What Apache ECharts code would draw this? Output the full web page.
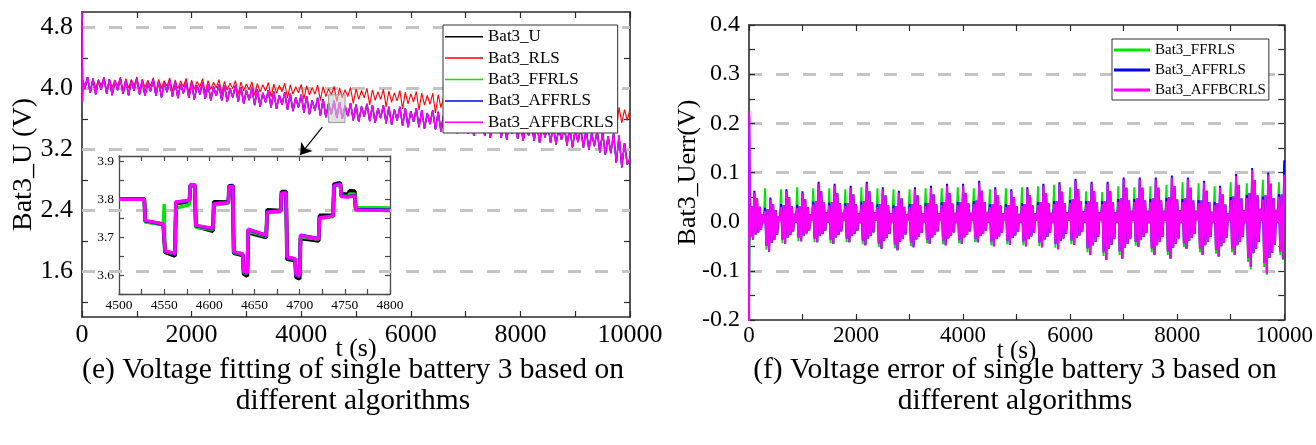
<!DOCTYPE html>
<html>
<head>
<meta charset="utf-8">
<script src="https://cdn.jsdelivr.net/npm/echarts@6/dist/echarts.min.js"></script>
<style>
  html, body { margin: 0; padding: 0; background: #fff; }
  #chart { width: 1316px; height: 445px; }
</style>
</head>
<body>
<div id="chart"></div>
<script>
// ---------- data ----------
// Terminal voltage of cell 3 (V), sampled every 50 s from 0 to 10000 s
const voltMeasured = [
  4.11, 3.99, 4.145, 3.94, 4.125, 3.92,
  4.10, 3.98, 4.135, 3.93, 4.115, 3.91,
  4.095, 3.975, 4.13, 3.925, 4.11, 3.905,
  4.09, 3.97, 4.125, 3.92, 4.105, 3.90,
  4.08, 3.96, 4.115, 3.90, 4.095, 3.88,
  4.07, 3.95, 4.105, 3.89, 4.085, 3.87,
  4.055, 3.935, 4.09, 3.875, 4.07, 3.855,
  4.04, 3.92, 4.075, 3.86, 4.055, 3.84,
  4.02, 3.90, 4.055, 3.84, 4.035, 3.82,
  4.00, 3.88, 4.035, 3.82, 4.015, 3.80,
  3.97, 3.845, 4.005, 3.78, 3.985, 3.76,
  3.94, 3.815, 3.975, 3.75, 3.955, 3.73,
  3.91, 3.785, 3.945, 3.72, 3.925, 3.70,
  3.88, 3.75, 3.915, 3.68, 3.895, 3.66,
  3.84, 3.71, 3.875, 3.64, 3.855, 3.62,
  3.80, 3.66, 3.835, 3.61, 3.815, 3.60,
  3.77, 3.635, 3.805, 3.58, 3.785, 3.56,
  3.76, 3.63, 3.795, 3.57, 3.775, 3.55,
  3.74, 3.61, 3.775, 3.54, 3.755, 3.52,
  3.72, 3.58, 3.755, 3.51, 3.735, 3.49,
  3.70, 3.56, 3.735, 3.49, 3.715, 3.47,
  3.675, 3.53, 3.71, 3.46, 3.69, 3.435,
  3.65, 3.505, 3.685, 3.435, 3.665, 3.41,
  3.625, 3.475, 3.66, 3.40, 3.64, 3.375,
  3.60, 3.45, 3.635, 3.375, 3.615, 3.35,
  3.575, 3.425, 3.61, 3.35, 3.59, 3.325,
  3.55, 3.405, 3.585, 3.335, 3.565, 3.31,
  3.525, 3.38, 3.56, 3.31, 3.54, 3.285,
  3.50, 3.355, 3.535, 3.285, 3.515, 3.26,
  3.475, 3.325, 3.51, 3.25, 3.49, 3.225,
  3.45, 3.295, 3.485, 3.22, 3.465, 3.19,
  3.41, 3.24, 3.445, 3.16, 3.425, 3.13,
  3.37, 3.15, 3.405, 3.02, 3.38, 2.96,
  3.28, 3.00,
  3.08
];
// RLS estimate (V), same 50 s grid
const voltRLS = [
  4.11, 4.035, 4.14, 3.96, 4.12, 4.005,
  4.115, 4.04, 4.145, 3.965, 4.12, 4.01,
  4.11, 4.03, 4.145, 3.96, 4.125, 4.00,
  4.115, 4.035, 4.15, 3.965, 4.12, 4.01,
  4.105, 4.03, 4.14, 3.955, 4.115, 4.00,
  4.10, 4.025, 4.135, 3.95, 4.11, 3.995,
  4.095, 4.02, 4.13, 3.945, 4.105, 3.99,
  4.09, 4.015, 4.125, 3.94, 4.10, 3.985,
  4.08, 4.005, 4.115, 3.93, 4.09, 3.975,
  4.07, 3.995, 4.10, 3.92, 4.08, 3.965,
  4.055, 3.98, 4.085, 3.905, 4.065, 3.95,
  4.045, 3.965, 4.075, 3.885, 4.055, 3.935,
  4.035, 3.955, 4.065, 3.875, 4.045, 3.925,
  4.02, 3.94, 4.05, 3.86, 4.03, 3.91,
  4.01, 3.925, 4.04, 3.84, 4.02, 3.89,
  3.995, 3.91, 4.025, 3.825, 4.005, 3.875,
  3.98, 3.89, 4.01, 3.80, 3.99, 3.855,
  3.97, 3.875, 4.00, 3.78, 3.98, 3.84,
  3.955, 3.855, 3.985, 3.755, 3.965, 3.815,
  3.94, 3.835, 3.97, 3.73, 3.95, 3.795,
  3.925, 3.82, 3.955, 3.715, 3.935, 3.78,
  3.905, 3.79, 3.935, 3.675, 3.915, 3.745,
  3.89, 3.775, 3.92, 3.66, 3.90, 3.73,
  3.875, 3.755, 3.905, 3.635, 3.885, 3.71,
  3.86, 3.74, 3.89, 3.62, 3.87, 3.69,
  3.845, 3.725, 3.875, 3.605, 3.855, 3.68,
  3.83, 3.71, 3.86, 3.59, 3.84, 3.66,
  3.815, 3.695, 3.845, 3.575, 3.825, 3.645,
  3.80, 3.68, 3.83, 3.56, 3.81, 3.63,
  3.785, 3.66, 3.815, 3.535, 3.795, 3.61,
  3.77, 3.64, 3.80, 3.51, 3.78, 3.59,
  3.755, 3.62, 3.785, 3.485, 3.765, 3.57,
  3.74, 3.60, 3.77, 3.46, 3.75, 3.545,
  3.72, 3.58,
  3.73
];
// start-up transients of the adaptive estimators, [t (s), U (V)]
const startFFRLS = [[0, 4.10], [12, 4.27], [25, 4.05]];
const startAFFRLS = [[0, 4.90], [8, 3.85], [20, 4.10]];
const startAFFBCRLS = [[0, 5.05], [8, 3.82], [20, 4.10]];

// Zoomed window 4500-4800 s (V)
const zoomT = [4500, 4528, 4529, 4549, 4550, 4551, 4562, 4563, 4578, 4579, 4584, 4585, 4604, 4605, 4621, 4622,
  4626, 4627, 4637, 4638, 4642, 4643, 4663, 4664, 4679, 4680, 4685, 4686, 4695, 4696, 4700, 4701, 4721, 4722,
  4737, 4738, 4745, 4746, 4754, 4755, 4761, 4762, 4800];
const zoomU = [3.800, 3.800, 3.742, 3.733, 3.733, 3.660, 3.650, 3.788, 3.795, 3.836, 3.836, 3.728, 3.716, 3.793,
  3.792, 3.835, 3.836, 3.658, 3.652, 3.603, 3.597, 3.712, 3.699, 3.772, 3.770, 3.820, 3.820, 3.642, 3.638, 3.594,
  3.590, 3.697, 3.690, 3.757, 3.757, 3.840, 3.843, 3.815, 3.813, 3.822, 3.821, 3.776, 3.774];
const zoomFFRLS = [3.800, 3.800, 3.740, 3.733, 3.787, 3.662, 3.655, 3.776, 3.786, 3.836, 3.836, 3.726, 3.720, 3.784,
  3.789, 3.832, 3.833, 3.660, 3.654, 3.607, 3.604, 3.716, 3.702, 3.764, 3.767, 3.815, 3.816, 3.646, 3.641, 3.600,
  3.596, 3.701, 3.694, 3.749, 3.754, 3.835, 3.839, 3.808, 3.808, 3.814, 3.813, 3.778, 3.777];
const zoomAFFRLS = [3.801, 3.801, 3.743, 3.734, 3.734, 3.663, 3.656, 3.792, 3.797, 3.838, 3.838, 3.730, 3.722, 3.789,
  3.792, 3.834, 3.835, 3.661, 3.655, 3.609, 3.605, 3.720, 3.704, 3.767, 3.770, 3.817, 3.818, 3.647, 3.642, 3.601,
  3.597, 3.705, 3.696, 3.752, 3.756, 3.837, 3.841, 3.808, 3.807, 3.811, 3.810, 3.773, 3.771];
const zoomAFFBCRLS = [3.800, 3.800, 3.744, 3.735, 3.734, 3.664, 3.657, 3.793, 3.797, 3.838, 3.838, 3.731, 3.723, 3.788,
  3.791, 3.833, 3.834, 3.662, 3.656, 3.610, 3.606, 3.721, 3.705, 3.766, 3.769, 3.816, 3.817, 3.648, 3.643, 3.602,
  3.598, 3.704, 3.695, 3.751, 3.755, 3.836, 3.840, 3.807, 3.806, 3.810, 3.809, 3.772, 3.770];

// Voltage error (mV), sampled every 25 s from 25 to 10000 s (one row per 300 s drive cycle)
const errFFRLS = [
  -38, 32, -37, 59, -26, 47, -22, 30, -17, 15, -3,
  68, -57, 25, -61, 45, -43, 36, -37, 23, -27, 11, 2,
  66, -44, 34, -45, 62, -32, 50, -27, 31, -20, 16, -2,
  70, -40, 32, -40, 58, -28, 46, -24, 29, -18, 15, 3,
  68, -42, 42, -42, 77, -29, 62, -25, 39, -19, 19, -2,
  68, -44, 40, -45, 73, -32, 58, -27, 37, -20, 18, 2,
  66, -42, 38, -42, 69, -29, 55, -25, 35, -19, 17, -3,
  70, -46, 42, -48, 77, -34, 62, -29, 39, -22, 19, 2,
  68, -52, 36, -55, 66, -39, 53, -33, 33, -25, 17, -2,
  66, -54, 32, -58, 59, -41, 47, -35, 30, -26, 15, 3,
  66, -50, 36, -52, 66, -36, 53, -31, 33, -23, 17, -2,
  68, -44, 38, -45, 69, -32, 55, -27, 35, -20, 17, 2,
  68, -46, 40, -48, 73, -34, 58, -29, 37, -22, 18, -3,
  70, -44, 40, -45, 73, -32, 58, -27, 37, -20, 18, 2,
  68, -42, 43, -42, 79, -29, 63, -25, 40, -19, 20, -2,
  66, -48, 36, -50, 66, -35, 53, -30, 33, -23, 17, 3,
  68, -46, 34, -47, 62, -33, 50, -28, 31, -21, 16, -2,
  70, -48, 36, -50, 66, -35, 53, -30, 33, -23, 17, 2,
  72, -50, 40, -52, 73, -36, 58, -31, 37, -23, 18, -3,
  75, -53, 42, -56, 76, -39, 61, -34, 38, -25, 19, 2,
  70, -46, 46, -47, 83, -33, 66, -28, 42, -21, 21, -2,
  62, -62, 42, -68, 77, -48, 62, -41, 39, -31, 19, 3,
  60, -70, 42, -78, 77, -55, 62, -47, 39, -35, 19, -2,
  72, -68, 47, -75, 86, -53, 69, -45, 43, -34, 22, 2,
  70, -49, 47, -51, 86, -36, 69, -31, 43, -23, 22, -3,
  72, -62, 47, -68, 86, -48, 69, -41, 43, -31, 22, 2,
  75, -68, 50, -75, 90, -53, 72, -45, 45, -34, 23, -2,
  80, -52, 47, -55, 86, -39, 69, -33, 43, -25, 22, 3,
  78, -62, 43, -68, 79, -48, 63, -41, 40, -31, 20, -2,
  72, -65, 38, -71, 69, -50, 55, -43, 35, -32, 17, 2,
  80, -62, 51, -68, 93, -48, 74, -41, 47, -31, 23, -3,
  78, -82, 58, -97, 105, -64, 84, -55, 53, -41, 26, 2,
  85, -92, 53, -108, 96, -74, 77, -63, 48, -47, 24, -2,
  80, -68, 55, -78,
  120
];
const errAFFRLS = [
  -30, 32, -37, 63, -26, 47, -22, 30, -17, 15, -3,
  28, -49, 25, -61, 49, -43, 36, -37, 23, -27, 11, 2,
  36, -36, 34, -45, 66, -32, 50, -27, 31, -20, 16, -2,
  34, -32, 32, -40, 62, -28, 46, -24, 29, -18, 15, 3,
  41, -34, 42, -42, 81, -29, 62, -25, 39, -19, 19, -2,
  39, -36, 40, -45, 77, -32, 58, -27, 37, -20, 18, 2,
  38, -34, 38, -42, 73, -29, 55, -25, 35, -19, 17, -3,
  41, -38, 42, -48, 81, -34, 62, -29, 39, -22, 19, 2,
  36, -44, 36, -55, 70, -39, 53, -33, 33, -25, 17, -2,
  34, -46, 32, -58, 63, -41, 47, -35, 30, -26, 15, 3,
  36, -42, 36, -52, 70, -36, 53, -31, 33, -23, 17, -2,
  38, -36, 38, -45, 73, -32, 55, -27, 35, -20, 17, 2,
  40, -38, 40, -48, 77, -34, 58, -29, 37, -22, 18, -3,
  40, -36, 40, -45, 77, -32, 58, -27, 37, -20, 18, 2,
  42, -34, 43, -42, 83, -29, 63, -25, 40, -19, 20, -2,
  36, -40, 36, -50, 70, -35, 53, -30, 33, -23, 17, 3,
  36, -38, 34, -47, 66, -33, 50, -28, 31, -21, 16, -2,
  38, -40, 36, -50, 70, -35, 53, -30, 33, -23, 17, 2,
  40, -42, 40, -52, 77, -36, 58, -31, 37, -23, 18, -3,
  42, -45, 42, -56, 80, -39, 61, -34, 38, -25, 19, 2,
  44, -38, 46, -47, 87, -33, 66, -28, 42, -21, 21, -2,
  42, -54, 42, -68, 81, -48, 62, -41, 39, -31, 19, 3,
  42, -62, 42, -78, 81, -55, 62, -47, 39, -35, 19, -2,
  46, -60, 47, -75, 90, -53, 69, -45, 43, -34, 22, 2,
  46, -41, 47, -51, 90, -36, 69, -31, 43, -23, 22, -3,
  46, -54, 47, -68, 90, -48, 69, -41, 43, -31, 22, 2,
  48, -60, 50, -75, 94, -53, 72, -45, 45, -34, 23, -2,
  46, -44, 47, -55, 90, -39, 69, -33, 43, -25, 22, 3,
  44, -54, 43, -68, 83, -48, 63, -41, 40, -31, 20, -2,
  40, -57, 38, -71, 73, -50, 55, -43, 35, -32, 17, 2,
  50, -54, 51, -68, 97, -48, 74, -41, 47, -31, 23, -3,
  54, -74, 58, -92, 109, -64, 84, -55, 53, -41, 26, 2,
  51, -84, 53, -105, 100, -74, 77, -63, 48, -47, 24, -2,
  56, -60, 55, -75,
  125
];
const errAFFBCRLS = [
  -30, 32, -37, 59, -26, 47, -22, 30, -17, 15, -3,
  22, -49, 25, -61, 45, -43, 36, -37, 23, -27, 11, 2,
  30, -36, 34, -45, 62, -32, 50, -27, 31, -20, 16, -2,
  28, -32, 32, -40, 58, -28, 46, -24, 29, -18, 15, 3,
  35, -34, 42, -42, 77, -29, 62, -25, 39, -19, 19, -2,
  33, -36, 40, -45, 73, -32, 58, -27, 37, -20, 18, 2,
  32, -34, 38, -42, 69, -29, 55, -25, 35, -19, 17, -3,
  35, -38, 42, -48, 77, -34, 62, -29, 39, -22, 19, 2,
  30, -44, 36, -55, 66, -39, 53, -33, 33, -25, 17, -2,
  28, -46, 32, -58, 59, -41, 47, -35, 30, -26, 15, 3,
  30, -42, 36, -52, 66, -36, 53, -31, 33, -23, 17, -2,
  32, -36, 38, -45, 69, -32, 55, -27, 35, -20, 17, 2,
  34, -38, 40, -48, 73, -34, 58, -29, 37, -22, 18, -3,
  34, -36, 40, -45, 73, -32, 58, -27, 37, -20, 18, 2,
  36, -34, 43, -42, 79, -29, 63, -25, 40, -19, 20, -2,
  30, -40, 36, -50, 66, -35, 53, -30, 33, -23, 17, 3,
  30, -38, 34, -47, 62, -33, 50, -28, 31, -21, 16, -2,
  32, -40, 36, -50, 66, -35, 53, -30, 33, -23, 17, 2,
  34, -42, 40, -52, 73, -36, 58, -31, 37, -23, 18, -3,
  36, -45, 42, -56, 76, -39, 61, -34, 38, -25, 19, 2,
  38, -38, 46, -47, 83, -33, 66, -28, 42, -21, 21, -2,
  36, -54, 42, -68, 77, -48, 62, -41, 39, -31, 19, 3,
  36, -62, 42, -78, 77, -55, 62, -47, 39, -35, 19, -2,
  40, -60, 47, -75, 86, -53, 69, -45, 43, -34, 22, 2,
  40, -41, 47, -51, 86, -36, 69, -31, 43, -23, 22, -3,
  40, -54, 47, -68, 86, -48, 69, -41, 43, -31, 22, 2,
  42, -60, 50, -75, 90, -53, 72, -45, 45, -34, 23, -2,
  40, -44, 47, -55, 86, -39, 69, -33, 43, -25, 22, 3,
  38, -54, 43, -68, 79, -48, 63, -41, 40, -31, 20, -2,
  34, -57, 38, -71, 69, -50, 55, -43, 35, -32, 17, 2,
  44, -54, 51, -68, 93, -48, 74, -41, 47, -31, 23, -3,
  48, -74, 58, -92, 105, -64, 84, -55, 53, -41, 26, 2,
  45, -84, 53, -105, 96, -74, 77, -63, 48, -47, 24, -2,
  50, -60, 55, -75,
  95
];
// start-up transients of the error traces, [t (s), error (mV)]
const errStartFFRLS = [[0, 0], [8, -140], [18, 40]];
const errStartAFFRLS = [[0, -300], [4, 215], [14, 40]];
const errStartAFFBCRLS = [[0, -300], [4, 225], [14, 40]];

// axis ticks and labels
const voltTicks = [1.2, 1.6, 2.0, 2.4, 2.8, 3.2, 3.6, 4.0, 4.4, 4.8];
const voltLabels = [1.6, 2.4, 3.2, 4.0, 4.8];
const zoomVoltTicks = [3.55, 3.6, 3.65, 3.7, 3.75, 3.8, 3.85, 3.9];
const zoomVoltLabels = [3.6, 3.7, 3.8, 3.9];
const zoomBox = { t0: 4500, t1: 4800, u0: 3.55, u1: 3.914 };
const arrowFrom = [4386, 3.489];
const arrowTo = [3979, 3.125];

const captionE = '(e) Voltage fitting of single battery 3 based on\ndifferent algorithms';
const captionF = '(f) Voltage error of single battery 3 based on\ndifferent algorithms';

// ---------- helpers ----------
const FONT = 'Liberation Serif';
const FRAME = '#2a2a2a';
const COL = { U: '#000000', RLS: '#ff0000', FF: '#00e600', AFF: '#0000ff', AFFBC: '#ff00ff' };

const tGrid50 = voltMeasured.map((_, i) => i * 50);
const tErr = errAFFBCRLS.map((_, i) => (i + 1) * 25);
const pairs = (ts, vs, k = 1) => ts.map((t, i) => [t, vs[i] * k]);
const measuredPts = pairs(tGrid50, voltMeasured);
const withStart = (start) => start.concat(measuredPts.slice(1));
const errPts = (start, vals) => start.map(p => [p[0], p[1] / 1000]).concat(pairs(tErr, vals, 0.001));

function axis(kind, gridIndex, position, c) {
  return {
    type: 'value', gridIndex, position,
    min: c.min, max: c.max, interval: c.interval,
    name: c.name || '', nameLocation: 'middle', nameGap: c.nameGap || 0, nameMoveOverlap: false,
    nameTextStyle: { fontFamily: FONT, fontSize: c.nameSize || 26, color: '#000' },
    axisLine: { show: true, onZero: false, lineStyle: { color: c.frame || FRAME, width: c.lw || 1.6 } },
    axisTick: { show: true, inside: true, length: c.tickLen || 6, customValues: c.tickValues,
      lineStyle: { color: c.frame || FRAME, width: 1.2 } },
    minorTick: { show: !!c.minor, splitNumber: c.minor || 5, length: c.tickLen || 6,
      lineStyle: { color: c.frame || FRAME, width: 1.2 } },
    axisLabel: c.labelSize ? {
      show: true, fontFamily: FONT, fontSize: c.labelSize, color: '#000', margin: c.margin,
      customValues: c.labelValues, formatter: c.fmt, showMinLabel: true, showMaxLabel: true
    } : { show: false },
    splitLine: c.split ? {
      show: true, showMinLine: false, showMaxLine: false,
      lineStyle: { color: '#c4c4c4', width: 3, type: [13, 14] }
    } : { show: false }
  };
}

const f1 = v => v.toFixed(1);
const fInt = v => String(Math.round(v));

const line = (name, color, width, xi, yi, data, extra) => Object.assign({
  name, type: 'line', xAxisIndex: xi, yAxisIndex: yi, data,
  showSymbol: false, symbol: 'none',
  lineStyle: { color, width }, itemStyle: { color }
}, extra || {});

const option = {
  animation: false,
  backgroundColor: '#fff',
  grid: [
    { left: 82, top: 12, width: 548, height: 305 },
    { left: 119, top: 156, width: 271, height: 138 },
    { left: 749, top: 25, width: 538, height: 295 }
  ],
  xAxis: [
    axis('x', 0, 'bottom', { min: 0, max: 10000, interval: 2000, minor: 2, labelSize: 26, margin: 5, fmt: fInt,
      name: 't (s)', nameGap: 19, nameSize: 26 }),
    axis('x', 0, 'top', { min: 0, max: 10000, interval: 2000, minor: 2 }),
    axis('x', 1, 'bottom', { min: 4500, max: 4800, interval: 50, minor: 2, labelSize: 13.5, margin: 4, tickLen: 5,
      fmt: fInt, frame: '#4a4a4a', lw: 1.3 }),
    axis('x', 1, 'top', { min: 4500, max: 4800, interval: 50, minor: 2, tickLen: 5, frame: '#4a4a4a', lw: 1.3 }),
    axis('x', 2, 'bottom', { min: 0, max: 10000, interval: 2000, minor: 2, labelSize: 23, margin: 4, fmt: fInt,
      name: 't (s)', nameGap: 19, nameSize: 25 }),
    axis('x', 2, 'top', { min: 0, max: 10000, interval: 2000, minor: 2 })
  ],
  yAxis: [
    axis('y', 0, 'left', { min: 1.0, max: 5.0, tickValues: voltTicks, labelValues: voltLabels, labelSize: 26,
      margin: 9, fmt: f1, name: 'Bat3_U (V)', nameGap: 44, nameSize: 28 }),
    axis('y', 0, 'right', { min: 1.0, max: 5.0, tickValues: voltTicks }),
    axis('y', 1, 'left', { min: 3.55, max: 3.914, tickValues: zoomVoltTicks, labelValues: zoomVoltLabels,
      labelSize: 13.5, margin: 5, tickLen: 5, fmt: f1, frame: '#4a4a4a', lw: 1.3 }),
    axis('y', 1, 'right', { min: 3.55, max: 3.914, tickValues: zoomVoltTicks, tickLen: 5, frame: '#4a4a4a', lw: 1.3 }),
    axis('y', 2, 'left', { min: -0.2, max: 0.4, interval: 0.1, minor: 2, labelSize: 24, margin: 9, fmt: f1,
      split: true, name: 'Bat3_Uerr(V)', nameGap: 48, nameSize: 26 }),
    axis('y', 2, 'right', { min: -0.2, max: 0.4, interval: 0.1, minor: 2 })
  ],
  legend: [
    {
      data: ['Bat3_U', 'Bat3_RLS', 'Bat3_FFRLS', 'Bat3_AFFRLS', 'Bat3_AFFBCRLS'],
      orient: 'vertical', left: 443, top: 25, padding: [3, 4, 2, 2], itemGap: 4,
      itemWidth: 38, itemHeight: 1.5, icon: 'rect', selectedMode: false,
      textStyle: { fontFamily: FONT, fontSize: 17, lineHeight: 17.4, color: '#000' },
      backgroundColor: '#fff', borderColor: '#333', borderWidth: 1
    },
    {
      data: ['Bat3_FFRLS', 'Bat3_AFFRLS', 'Bat3_AFFBCRLS'],
      orient: 'vertical', left: 1112, top: 39, padding: [3, 3, 2, 2], itemGap: 4,
      itemWidth: 36, itemHeight: 3, icon: 'rect', selectedMode: false,
      textStyle: { fontFamily: FONT, fontSize: 15, lineHeight: 16, color: '#000' },
      backgroundColor: '#fff', borderColor: '#333', borderWidth: 1
    }
  ],
  graphic: [
    { type: 'text', silent: true, style: { text: captionE, x: 353, y: 355, textAlign: 'center', textVerticalAlign: 'top',
      fontFamily: FONT, fontSize: 29.5, lineHeight: 31, fill: '#000' } },
    { type: 'text', silent: true, style: { text: captionF, x: 1015, y: 355, textAlign: 'center', textVerticalAlign: 'top',
      fontFamily: FONT, fontSize: 29.5, lineHeight: 31, fill: '#000' } }
  ],
  series: [
    // main voltage panel
    line('Bat3_U', COL.U, 1.2, 0, 0, measuredPts, {
      markLine: {
        silent: true, symbol: 'none', z: 1, label: { show: false },
        lineStyle: { color: '#c4c4c4', width: 3, type: [13, 14] },
        data: voltLabels.map(v => ({ yAxis: v }))
      }
    }),
    line('Bat3_RLS', COL.RLS, 1.1, 0, 0, pairs(tGrid50, voltRLS)),
    line('Bat3_FFRLS', COL.FF, 1.2, 0, 0, withStart(startFFRLS)),
    line('Bat3_AFFRLS', COL.AFF, 1.3, 0, 0, withStart(startAFFRLS)),
    line('Bat3_AFFBCRLS', COL.AFFBC, 1.6, 0, 0, withStart(startAFFBCRLS), {
      markArea: {
        silent: true, z: 10,
        itemStyle: { color: 'rgba(205,205,205,0.6)', borderColor: '#9a9a9a', borderWidth: 1 },
        data: [[{ coord: [zoomBox.t0, zoomBox.u0] }, { coord: [zoomBox.t1, zoomBox.u1] }]]
      },
      markLine: {
        silent: true, z: 10, symbol: ['none', 'arrow'], symbolSize: 11, label: { show: false },
        lineStyle: { color: '#000', width: 1.2, type: 'solid' },
        data: [[{ coord: arrowFrom }, { coord: arrowTo }]]
      }
    }),
    // zoomed window
    line('Bat3_U', COL.U, 3.8, 2, 2, pairs(zoomT, zoomU)),
    line('Bat3_FFRLS', COL.FF, 3.4, 2, 2, pairs(zoomT, zoomFFRLS)),
    line('Bat3_AFFRLS', COL.AFF, 3.4, 2, 2, pairs(zoomT, zoomAFFRLS)),
    line('Bat3_AFFBCRLS', COL.AFFBC, 3.4, 2, 2, pairs(zoomT, zoomAFFBCRLS)),
    // error panel
    line('Bat3_FFRLS', COL.FF, 2, 4, 4, errPts(errStartFFRLS, errFFRLS)),
    line('Bat3_AFFRLS', COL.AFF, 2, 4, 4, errPts(errStartAFFRLS, errAFFRLS)),
    line('Bat3_AFFBCRLS', COL.AFFBC, 2, 4, 4, errPts(errStartAFFBCRLS, errAFFBCRLS))
  ]
};

const chart = echarts.init(document.getElementById('chart'), null, { renderer: 'canvas' });
chart.setOption(option);
</script>
</body>
</html>
